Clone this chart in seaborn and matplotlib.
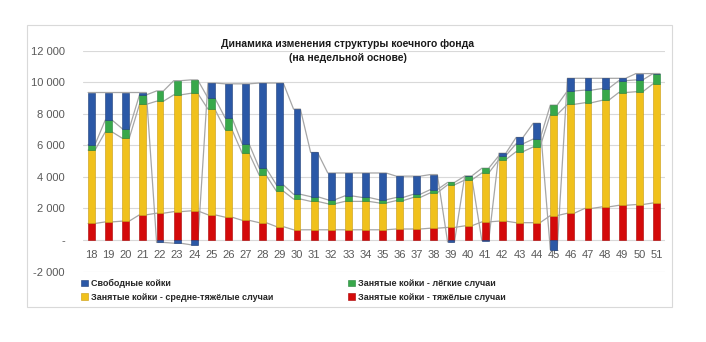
import matplotlib
matplotlib.use("Agg")
import matplotlib.pyplot as plt
from matplotlib.patches import Rectangle
import seaborn as sns
import numpy as np

weeks = list(range(18, 52))
week_labels = [str(w) for w in weeks]

red = [1050, 1150, 1200, 1600, 1700, 1800, 1850, 1600, 1450, 1250, 1100, 850,
       650, 650, 650, 650, 650, 650, 700, 700, 750, 800, 900, 1150, 1200, 1100,
       1100, 1550, 1700, 2000, 2100, 2200, 2250, 2350]
yellow = [4650, 5700, 5250, 7000, 7100, 7400, 7450, 6700, 5550, 4250, 3000, 2250,
          1950, 1800, 1650, 1800, 1800, 1700, 1800, 2000, 2250, 2700, 2900, 3100,
          3900, 4500, 4800, 6400, 6900, 6700, 6750, 7150, 7150, 7550]
green = [350, 750, 600, 600, 650, 900, 850, 700, 750, 600, 450, 400,
         300, 300, 250, 350, 250, 200, 200, 200, 200, 150, 250, 300,
         250, 500, 500, 600, 850, 800, 750, 750, 750, 650]
blue = [3300, 1750, 2300, 150, -150, -200, -300, 950, 2150, 3800, 5400, 6450,
        5400, 2800, 1700, 1450, 1550, 1700, 1350, 1150, 950, -120, 0, -30,
        150, 400, 1000, -600, 800, 750, 650, 150, 400, 0]

series_names = ["Свободные койки",
                "Занятые койки - лёгкие случаи",
                "Занятые койки - средне-тяжёлые случаи",
                "Занятые койки - тяжёлые случаи"]

title_lines = ["Динамика изменения структуры коечного фонда", "(на недельной основе)"]
y_ticks = [-2000, 0, 2000, 4000, 6000, 8000, 10000, 12000]

colors = {"red": "#d40a0a", "yellow": "#f0c11c", "green": "#38a84a", "blue": "#2b58a6"}
edges = {"red": "#a80000", "yellow": "#c99a0c", "green": "#23823a", "blue": "#1c3c78"}

sns.set_theme(style="white")
plt.rcParams["font.family"] = ["Liberation Sans", "DejaVu Sans"]

fig = plt.figure(figsize=(7.06, 3.42), dpi=100)
ax = fig.add_axes([83 / 706, 1 - 271.6 / 342, (665 - 83) / 706, (271.6 - 50.7) / 342])

layers = [("red", red), ("yellow", yellow), ("green", green), ("blue", blue)]
pos_base = np.zeros(len(weeks))
neg_base = np.zeros(len(weeks))
ends = {}
bar_w = 0.4
for name, vals in layers:
    v = np.array(vals, dtype=float)
    bottoms = np.where(v >= 0, pos_base, neg_base)
    sns.barplot(x=week_labels, y=v, bottom=bottoms, order=week_labels,
                color=colors[name], saturation=1, width=bar_w, errorbar=None,
                edgecolor=edges[name], linewidth=0.4, ax=ax, zorder=3)
    end = bottoms + v
    ends[name] = end
    pos_base = np.where(v >= 0, end, pos_base)
    neg_base = np.where(v < 0, end, neg_base)

# series lines
idx = np.arange(len(weeks))
for name, _ in layers:
    xs = np.ravel(np.column_stack([idx - bar_w / 2, idx + bar_w / 2]))
    ys = np.repeat(ends[name], 2)
    ax.plot(xs, ys, color="#a6a6a6", lw=0.9, zorder=2)

ax.set_xlim(-0.5, len(weeks) - 0.5)
ax.set_ylim(-2000, 12000)
ax.set_yticks(y_ticks)


def fmt(v):
    if v == 0:
        return "-"
    s = f"{abs(v):,}".replace(",", " ")
    return ("-" if v < 0 else "") + s


ax.set_yticklabels([fmt(v) for v in y_ticks])
ax.grid(axis="y", color="#d9d9d9", lw=0.8, zorder=0)
ax.set_axisbelow(True)
for s in ax.spines.values():
    s.set_visible(False)
ax.spines["bottom"].set_position(("data", 0))
ax.tick_params(axis="x", length=0, pad=7, labelsize=8, labelcolor="#595959")
ax.tick_params(axis="y", length=0, pad=13, labelsize=8, labelcolor="#595959")
ax.set_xlabel("")
ax.set_ylabel("")

fig.text(348 / 706, 1 - 44 / 342, title_lines[0], ha="center", va="center",
         fontsize=7.5, fontweight="bold", color="#1a1a1a")
fig.text(348 / 706, 1 - 58 / 342, title_lines[1], ha="center", va="center",
         fontsize=7.5, fontweight="bold", color="#1a1a1a")

handles = [Rectangle((0, 0), 1, 1, facecolor=colors[c], edgecolor=edges[c], lw=0.4)
           for c in ["blue", "green", "yellow", "red"]]
# order for 2 columns, filled column-wise: col1 = blue, yellow; col2 = green, red
order = [0, 2, 1, 3]
leg = fig.legend([handles[i] for i in order], [series_names[i] for i in order],
                 ncol=2, loc="upper left", bbox_to_anchor=(81 / 706, 1 - 279 / 342),
                 frameon=False, prop={"size": 6.5, "weight": "bold"},
                 handlelength=0.8, handleheight=0.8, handletextpad=0.3,
                 columnspacing=8.3, labelspacing=0.5, borderaxespad=0, borderpad=0)

fig.add_artist(Rectangle((27 / 706, 1 - 307 / 342), (672 - 27) / 706, (307 - 25) / 342,
                         transform=fig.transFigure, fill=False, edgecolor="#d9d9d9", lw=0.8))

fig.savefig("out.png", dpi=100, facecolor="white")
